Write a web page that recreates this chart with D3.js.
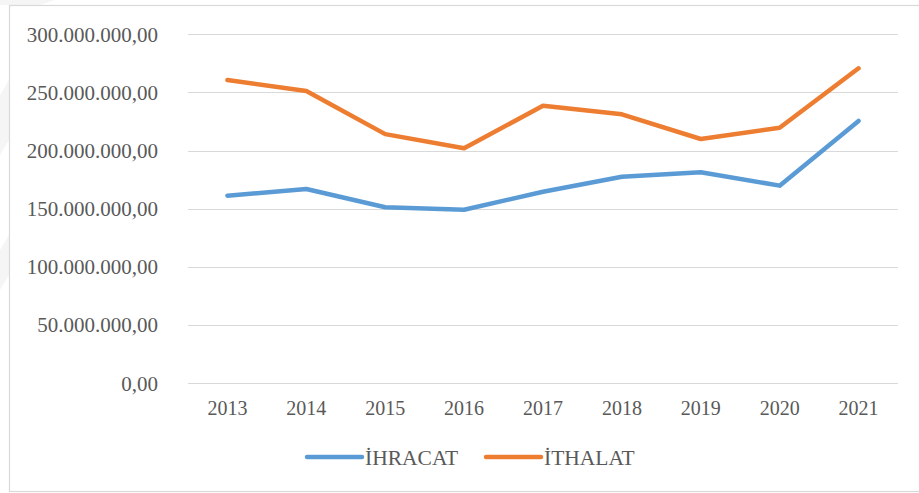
<!DOCTYPE html>
<html>
<head>
<meta charset="utf-8">
<script src="https://cdn.jsdelivr.net/npm/d3@7"></script>
<style>
  html, body { margin: 0; padding: 0; background: #fff; }
  svg { display: block; }
  .lbl { font-family: "Liberation Serif", "Times New Roman", serif; font-size: 20px; fill: #595959; }
  .ylbl { font-size: 21px; }
  .leg { font-size: 21.5px; }
</style>
</head>
<body>
<svg id="chart" width="919" height="493"></svg>
<script>
// --- data ---
const years = ["2013", "2014", "2015", "2016", "2017", "2018", "2019", "2020", "2021"];
const ihracat = [161.3e6, 167.0e6, 151.3e6, 149.2e6, 164.7e6, 177.6e6, 181.4e6, 169.9e6, 225.5e6];
const ithalat = [260.7e6, 251.3e6, 214.2e6, 202.0e6, 238.6e6, 231.2e6, 210.0e6, 219.7e6, 270.8e6];
const seriesNames = ["İHRACAT", "İTHALAT"];
const seriesColors = ["#5b9bd5", "#ed7d31"];
const yTicks = [0, 50e6, 100e6, 150e6, 200e6, 250e6, 300e6];

const svg = d3.select("#chart");

// faint watermark shapes on the left edge
const wm = svg.append("g").attr("fill", "#f5f5f5");
wm.append("path").attr("d", "M0,0 L55,0 L40,5 L0,5 Z");
wm.append("path").attr("d", "M0,95 L9,80 L9,140 L0,155 Z");
wm.append("path").attr("d", "M0,250 L9,235 L9,275 L0,290 Z");

// chart border
svg.append("rect")
    .attr("x", 9.5).attr("y", 5.5)
    .attr("width", 930).attr("height", 486)
    .attr("fill", "none").attr("stroke", "#d9d9d9").attr("stroke-width", 1.2);

const x = d3.scalePoint().domain(years).range([188, 898]).padding(0.5);
const y = d3.scaleLinear().domain([0, 300e6]).range([383.3, 34.3]);

const trLocale = d3.formatLocale({ decimal: ",", thousands: ".", grouping: [3], currency: ["", ""] });
const fmt = trLocale.format(",.2f");

// gridlines + y labels
const grid = svg.append("g");
grid.selectAll("line").data(yTicks).enter().append("line")
    .attr("x1", 188).attr("x2", 898)
    .attr("y1", d => Math.round(y(d)) + 0.5).attr("y2", d => Math.round(y(d)) + 0.5)
    .attr("stroke", "#d9d9d9").attr("stroke-width", 1.2);

svg.append("g").selectAll("text").data(yTicks).enter().append("text")
    .attr("class", "lbl ylbl")
    .attr("x", 158).attr("y", d => y(d))
    .attr("dy", "0.35em")
    .attr("text-anchor", "end")
    .text(d => fmt(d));

// x labels
svg.append("g").selectAll("text").data(years).enter().append("text")
    .attr("class", "lbl")
    .attr("x", d => x(d)).attr("y", 415)
    .attr("text-anchor", "middle")
    .text(d => d);

// lines
const line = d3.line().x((d, i) => x(years[i])).y(d => y(d));
[ihracat, ithalat].forEach((vals, i) => {
    svg.append("path")
        .datum(vals)
        .attr("d", line)
        .attr("fill", "none")
        .attr("stroke", seriesColors[i])
        .attr("stroke-width", 4.5)
        .attr("stroke-linecap", "round")
        .attr("stroke-linejoin", "round");
});

// legend
const legendX = [307, 486];
seriesNames.forEach((name, i) => {
    const g = svg.append("g").attr("transform", `translate(${legendX[i]},457)`);
    g.append("line").attr("x1", 0).attr("x2", 55).attr("y1", 0).attr("y2", 0)
        .attr("stroke", seriesColors[i]).attr("stroke-width", 4.5).attr("stroke-linecap", "round");
    g.append("text").attr("class", "lbl leg").attr("x", 58).attr("y", 0).attr("dy", "0.35em").text(name);
});
</script>
</body>
</html>
